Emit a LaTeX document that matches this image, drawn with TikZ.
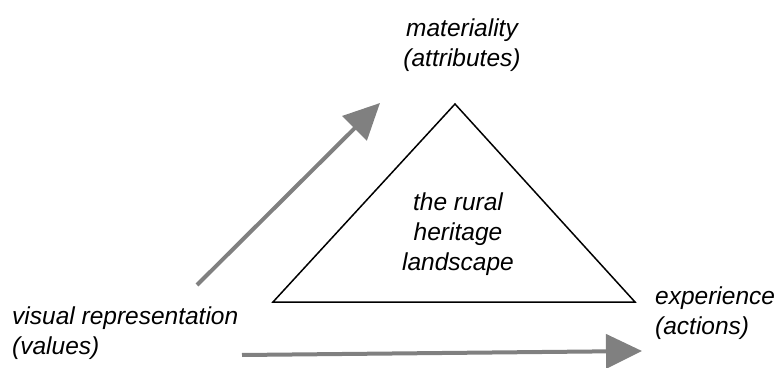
\documentclass[tikz,border=0pt]{standalone}
\usepackage{fontspec}
\setmainfont{Liberation Sans}
\usetikzlibrary{arrows.meta, positioning}

\begin{document}
\begin{tikzpicture}[x=1pt, y=1pt,
    label/.style={font=\fontsize{24.5}{30}\selectfont\itshape, inner sep=0pt},
    arrow/.style={-{Triangle[length=36pt, width=34pt]}, line width=4pt, draw={rgb,255:red,128;green,128;blue,128}}]
  \useasboundingbox (0,0) rectangle (781,367);
  % triangle corners
  \coordinate (top) at (455,263);
  \coordinate (left) at (273,65);
  \coordinate (right) at (635,65);
  \draw[line width=1.5pt, line join=miter] (top) -- (left) -- (right) -- cycle;
  \node[label, align=center] (land) at (458,133) {the rural\\heritage\\landscape};
  \node[label, align=center] (mat) at (462,322) {materiality\\(attributes)};
  \node[label, align=left, anchor=west] (exp) at (655,54) {experience\\(actions)};
  \node[label, align=left, anchor=west] (vis) at (12,34) {visual representation\\(values)};
  % arrow ends
  \coordinate (up0) at (197,82);
  \coordinate (up1) at (380,264);
  \coordinate (low0) at (242,12);
  \coordinate (low1) at (642,16);
  \draw[arrow] (up0) -- (up1);
  \draw[arrow] (low0) -- (low1);
\end{tikzpicture}
\end{document}
